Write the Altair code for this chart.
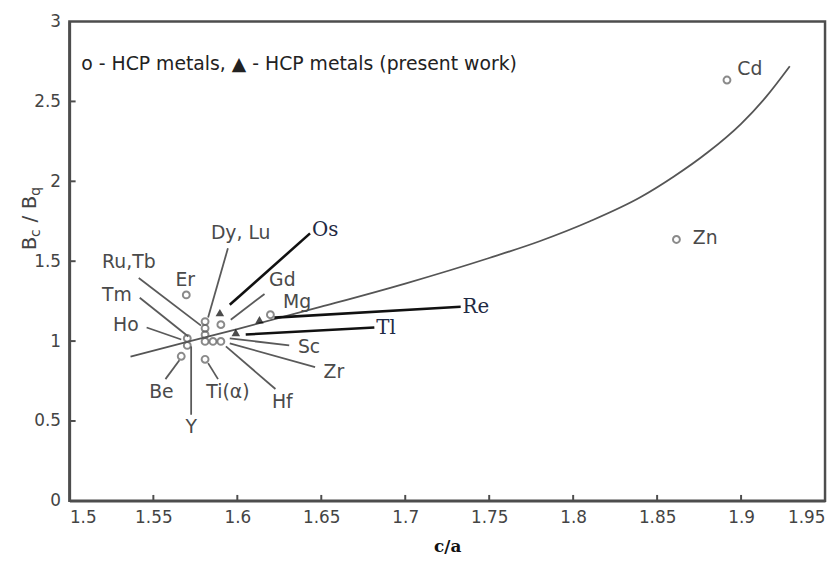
import altair as alt
import pandas as pd

# ---- data -------------------------------------------------------------
# hollow circles: HCP metals (literature)
circle_x = [1.5696, 1.5702, 1.5702, 1.5666, 1.5808, 1.5808, 1.5808, 1.5808,
            1.5808, 1.5855, 1.5902, 1.5902, 1.6197, 1.8916, 1.8615]
circle_y = [1.289, 1.017, 0.973, 0.905, 0.886, 1.122, 1.080, 1.040,
            0.998, 0.998, 1.103, 0.998, 1.165, 2.634, 1.636]

# filled triangles: HCP metals (present work) - Os, Tl, Re
tri_x = [1.5896, 1.5991, 1.6132]
tri_y = [1.178, 1.054, 1.134]

# theoretical curve
curve_x = [1.5364, 1.569, 1.60, 1.65, 1.70, 1.75, 1.78, 1.81, 1.84,
           1.86, 1.88, 1.90, 1.915, 1.929]
curve_y = [0.903, 0.992, 1.075, 1.215, 1.36, 1.52, 1.625, 1.75, 1.90,
           2.03, 2.18, 2.36, 2.53, 2.72]

# sans-serif element labels
label_text = ["Dy, Lu", "Ru,Tb", "Er", "Tm", "Gd", "Mg", "Ho", "Sc", "Zr",
              "Hf", "Ti(α)", "Be", "Y", "Cd", "Zn"]
label_x = [1.6020, 1.5354, 1.5690, 1.5283, 1.6268, 1.6356, 1.5336, 1.6427,
           1.6575, 1.6268, 1.5944, 1.5548, 1.5725, 1.9052, 1.8786]
label_y = [1.674, 1.494, 1.382, 1.289, 1.382, 1.246, 1.103, 0.961,
           0.806, 0.620, 0.682, 0.682, 0.465, 2.703, 1.643]

# serif labels for present-work metals
serif_text = ["Os", "Re", "Tl"]
serif_x = [1.6445, 1.7341, 1.6828]
serif_y = [1.698, 1.215, 1.079]

# grey leader lines (x1, y1, x2, y2)
grey_x1 = [1.5944, 1.5413, 1.5419, 1.6162, 1.5460, 1.6309, 1.6463, 1.6227, 1.5885, 1.5572, 1.5725]
grey_y1 = [1.581, 1.395, 1.271, 1.295, 1.085, 0.973, 0.837, 0.700, 0.762, 0.762, 0.539]
grey_x2 = [1.5826, 1.5784, 1.5708, 1.5961, 1.5666, 1.5955, 1.5955, 1.5932, 1.5826, 1.5655, 1.5725]
grey_y2 = [1.147, 1.097, 1.029, 1.134, 1.010, 1.017, 0.986, 0.967, 0.862, 0.880, 0.967]

# black leader lines for Os, Re, Tl
black_x1 = [1.6433, 1.7330, 1.6816]
black_y1 = [1.674, 1.215, 1.085]
black_x2 = [1.5955, 1.6221, 1.6050]
black_y2 = [1.227, 1.147, 1.041]

x_ticks = [1.5, 1.55, 1.6, 1.65, 1.7, 1.75, 1.8, 1.85, 1.9, 1.95]
y_ticks = [0, 0.5, 1, 1.5, 2, 2.5, 3]
x_inner_ticks = [1.55, 1.6, 1.65, 1.7, 1.75, 1.8, 1.85, 1.9]
y_inner_ticks = [0.5, 1, 1.5, 2, 2.5]

legend_text = "o - HCP metals,  ▲ - HCP metals (present work)"

# ---- chart ------------------------------------------------------------
W, H = 763, 484
GREY = "#555555"
FRAME = "#4d4d4d"
XMIN, XMAX, YMIN, YMAX = 1.5, 1.95, 0.0, 3.0
XT_LEN = 0.037   # inward tick length in data units (y)
YT_LEN = 0.0037  # inward tick length in data units (x)

xs = alt.Scale(domain=[XMIN, XMAX], nice=False, zero=False)
ys = alt.Scale(domain=[YMIN, YMAX], nice=False, zero=False)

circles = pd.DataFrame({"x": circle_x, "y": circle_y})
tris = pd.DataFrame({"x": tri_x, "y": tri_y})
curve = pd.DataFrame({"x": curve_x, "y": curve_y})
labels = pd.DataFrame({"t": label_text, "x": label_x, "y": label_y})
slabels = pd.DataFrame({"t": serif_text, "x": serif_x, "y": serif_y})
glines = pd.DataFrame({"x": grey_x1, "y": grey_y1, "x2": grey_x2, "y2": grey_y2})
blines = pd.DataFrame({"x": black_x1, "y": black_y1, "x2": black_x2, "y2": black_y2})

xtk = pd.DataFrame({"x": x_inner_ticks, "y": [YMIN] * len(x_inner_ticks),
                    "x2": x_inner_ticks, "y2": [YMIN + XT_LEN] * len(x_inner_ticks)})
ytk = pd.DataFrame({"x": [XMIN] * len(y_inner_ticks), "y": y_inner_ticks,
                    "x2": [XMIN + YT_LEN] * len(y_inner_ticks), "y2": y_inner_ticks})
one = pd.DataFrame({"a": [0]})

circ = alt.Chart(circles).mark_point(shape="circle", filled=False, color="#5a5a5a",
                                     size=48, strokeWidth=2).encode(
    x=alt.X("x:Q", scale=xs, title="c/a",
            axis=alt.Axis(values=x_ticks, format="~g", tickSize=0, grid=False,
                          domain=True, domainColor=FRAME, domainWidth=2.5,
                          labelFlush=True, labelPadding=9, labelFont="DejaVu Sans",
                          labelFontSize=17, labelColor="#444444",
                          titleFont="DejaVu Serif", titleFontWeight="bold", titleFontSize=17,
                          titleColor="#111111", titleBaseline="middle", titleY=46)),
    y=alt.Y("y:Q", scale=ys, title=None,
            axis=alt.Axis(values=y_ticks, format="~g", tickSize=0, grid=False,
                          domain=True, domainColor=FRAME, domainWidth=2.5,
                          labelPadding=9, labelFont="DejaVu Sans", labelFontSize=17,
                          labelColor="#444444")),
)

xtick_layer = alt.Chart(xtk).mark_rule(color=FRAME, strokeWidth=2).encode(
    x=alt.X("x:Q", scale=xs), y=alt.Y("y:Q", scale=ys), x2="x2:Q", y2="y2:Q")
ytick_layer = alt.Chart(ytk).mark_rule(color=FRAME, strokeWidth=2).encode(
    x=alt.X("x:Q", scale=xs), y=alt.Y("y:Q", scale=ys), x2="x2:Q", y2="y2:Q")

curve_layer = alt.Chart(curve).mark_line(color=GREY, strokeWidth=1.8, interpolate="monotone").encode(
    x=alt.X("x:Q", scale=xs), y=alt.Y("y:Q", scale=ys))

grey_lines = alt.Chart(glines).mark_rule(color="#5a5a5a", strokeWidth=1.8).encode(
    x=alt.X("x:Q", scale=xs), y=alt.Y("y:Q", scale=ys), x2="x2:Q", y2="y2:Q")
black_lines = alt.Chart(blines).mark_rule(color="#111111", strokeWidth=2.6).encode(
    x=alt.X("x:Q", scale=xs), y=alt.Y("y:Q", scale=ys), x2="x2:Q", y2="y2:Q")

tri = alt.Chart(tris).mark_point(shape="triangle-up", filled=True, color="#000000",
                                 size=75).encode(
    x=alt.X("x:Q", scale=xs), y=alt.Y("y:Q", scale=ys))

lab = alt.Chart(labels).mark_text(font="DejaVu Sans", fontSize=19, color="#4a4a4a",
                                  align="center", baseline="middle").encode(
    x=alt.X("x:Q", scale=xs), y=alt.Y("y:Q", scale=ys), text="t:N")
slab = alt.Chart(slabels).mark_text(font="DejaVu Serif", fontSize=20, color="#1f2a44",
                                    align="left", baseline="middle").encode(
    x=alt.X("x:Q", scale=xs), y=alt.Y("y:Q", scale=ys), text="t:N")

legend = alt.Chart(one).mark_text(font="DejaVu Sans", fontSize=19, color="#222222",
                                  align="left", baseline="middle").encode(
    x=alt.value(12), y=alt.value(43), text=alt.value(legend_text))

# y-axis title "Bc / Bq" with subscripts, rotated
def ypiece(txt, y, xpos, size):
    return alt.Chart(one).mark_text(font="DejaVu Sans", fontSize=size, color="#444444",
                                    align="left", baseline="alphabetic", angle=270).encode(
        x=alt.value(xpos), y=alt.value(y), text=alt.value(txt))

yt1 = ypiece("B", 231, -34, 20)
yt2 = ypiece("c", 217.5, -30, 14)
yt3 = ypiece("/", 203, -34, 20)
yt4 = ypiece("B", 189.5, -34, 20)
yt5 = ypiece("q", 176, -30, 14)

chart = alt.layer(
    circ, xtick_layer, ytick_layer, curve_layer, grey_lines, black_lines, tri,
    lab, slab, legend, yt1, yt2, yt3, yt4, yt5
).properties(
    width=W, height=H,
    autosize=alt.AutoSizeParams(type="none"),
    padding={"left": 62, "top": 11, "right": 4, "bottom": 52},
).configure_view(stroke=FRAME, strokeWidth=2.5)

chart.save("out.html", embed_options={"renderer": "svg", "actions": False})
